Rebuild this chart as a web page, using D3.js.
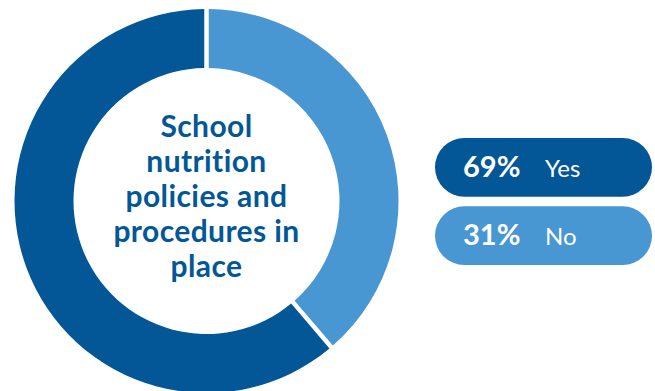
<!DOCTYPE html>
<html>
<head>
<meta charset="utf-8">
<script src="https://cdn.jsdelivr.net/npm/d3@7"></script>
<style>
  body { margin: 0; background: #fff; }
  svg { display: block; }
  text { font-family: "Source Sans Pro", Lato, "Noto Sans", sans-serif; font-variant-ligatures: none; }
</style>
</head>
<body>
<div class="chart"></div>
<script>
// data
var categories = ["Yes", "No"];
var percentLabels = [69, 31];          // printed in the legend
var arcShares = [61.25, 38.75];        // share of the ring as drawn in the picture
var titleLines = ["School", "nutrition", "policies and", "procedures in", "place"];

var colors = ["#035796", "#4896d2"];

var svgWidth = 655;
var svgHeight = 391;

var svg = d3.select(".chart")
  .append("svg")
  .attr("width", svgWidth)
  .attr("height", svgHeight);

var cx = 206.5, cy = 201;
var outerR = 192, innerR = 133;

var donut = svg.append("g")
  .attr("transform", `translate(${cx}, ${cy})`);

// "No" runs clockwise from 12 o'clock, so start "Yes" where "No" ends
var start = 2 * Math.PI * arcShares[1] / d3.sum(arcShares);
var pie = d3.pie()
  .sort(null)
  .value(d => d)
  .startAngle(start)
  .endAngle(start + 2 * Math.PI);

var arc = d3.arc()
  .innerRadius(innerR)
  .outerRadius(outerR)
  .padRadius(100)
  .padAngle(0.045);

donut.selectAll("path")
  .data(pie(arcShares))
  .enter()
  .append("path")
  .attr("d", arc)
  .attr("fill", (d, i) => colors[i]);

// centre title
var lineY = d3.scaleLinear()
  .domain([0, titleLines.length - 1])
  .range([137, 277]);

svg.append("g")
  .selectAll("text")
  .data(titleLines)
  .enter()
  .append("text")
  .attr("x", cx)
  .attr("y", d => lineY(titleLines.indexOf(d)))
  .attr("text-anchor", "middle")
  .attr("font-size", 30)
  .attr("font-weight", 700)
  .attr("letter-spacing", 0.4)
  .attr("fill", colors[0])
  .text(d => d);

// legend pills
var legendY = d3.scaleBand()
  .domain(categories)
  .range([138, 265])
  .paddingInner(0.14);

var legend = svg.append("g")
  .selectAll("g")
  .data(categories)
  .enter()
  .append("g")
  .attr("transform", d => `translate(435, ${legendY(d)})`);

legend.append("rect")
  .attr("width", 217)
  .attr("height", legendY.bandwidth())
  .attr("rx", legendY.bandwidth() / 2)
  .attr("fill", (d, i) => colors[i]);

legend.append("text")
  .attr("x", 28)
  .attr("y", legendY.bandwidth() / 2 + 9.5)
  .attr("font-size", 29)
  .attr("font-weight", 700)
  .attr("fill", "#fff")
  .text((d, i) => percentLabels[i] + "%");

legend.append("text")
  .attr("x", 110)
  .attr("y", legendY.bandwidth() / 2 + 9.5)
  .attr("font-size", 24)
  .attr("fill", "#fff")
  .text(d => d);
</script>
</body>
</html>
